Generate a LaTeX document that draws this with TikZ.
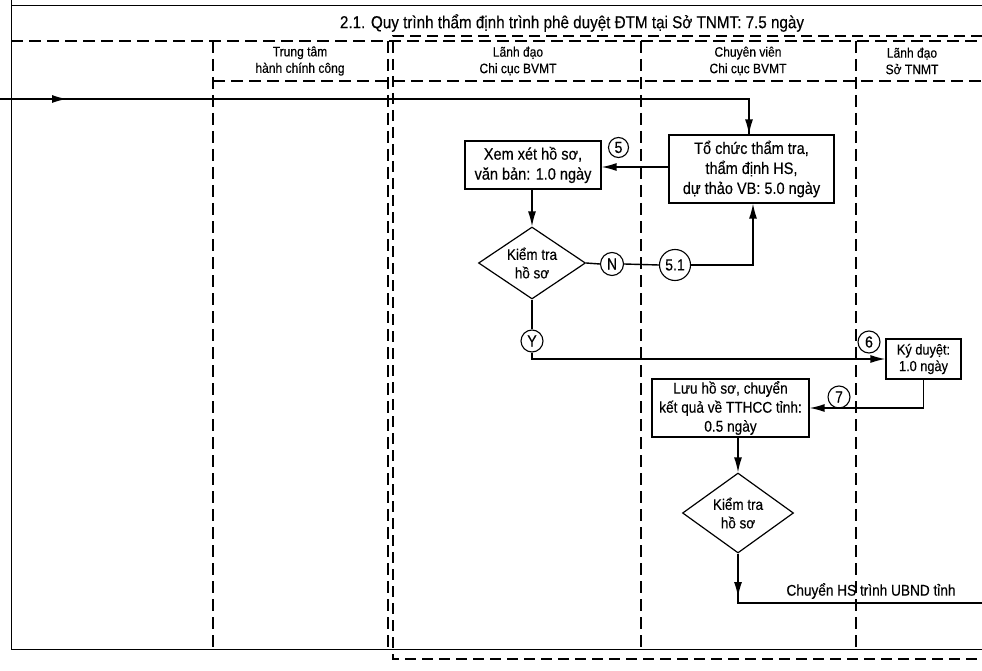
\documentclass[tikz,border=0pt]{standalone}
\usepackage{fontspec}
\setmainfont{Liberation Sans}[FakeStretch=0.88,FakeBold=0.3]
\usetikzlibrary{shapes.geometric,arrows.meta}
\begin{document}
\begin{tikzpicture}[x=1pt,y=-1pt,
  lanedash/.style={line width=1.1pt, dash pattern=on 12pt off 6pt},
  boxdash/.style={line width=1.9pt, dash pattern=on 11pt off 6pt},
  frameline/.style={line width=1pt},
  procbox/.style={draw, line width=1.2pt, align=center, inner sep=0pt},
  decision/.style={draw, diamond, line width=1.2pt, align=center, inner sep=0pt, aspect=1.4, font=\fontsize{15.3pt}{18.5pt}\selectfont},
  tag/.style={draw, circle, line width=1.1pt, inner sep=0pt, minimum size=22pt, font=\fontsize{16pt}{18pt}\selectfont},
  hdr/.style={align=center, inner sep=0pt, font=\fontsize{13.7pt}{16.5pt}\selectfont},
  flow/.style={line width=1.4pt},
  arr/.style={flow, -{Latex[length=15pt,width=8pt]}}
]
\useasboundingbox (0,0) rectangle (982,671);
% frame
\draw[frameline] (11,0) -- (11,649) -- (982,649);
\draw[frameline] (11,6) -- (982,6);
\draw[lanedash] (11,41) -- (982,41);
\draw[lanedash] (213,81) -- (982,81);
\draw[lanedash] (213,41) -- (213,649);
\draw[lanedash] (388,41) -- (388,649);
\draw[lanedash] (641,41) -- (641,649);
\draw[lanedash] (856,41) -- (856,649);
\draw[boxdash] (982,36) -- (393,36) -- (393,659) -- (982,659);
% title and headers
\node[inner sep=0pt, font=\fontsize{17.3pt}{20pt}\selectfont] (title) at (572,23) {2.1. Quy trình thẩm định trình phê duyệt ĐTM tại Sở TNMT: 7.5 ngày};
\node[hdr] (h1) at (300,61) {Trung tâm\\hành chính công};
\node[hdr] (h2) at (518,61) {Lãnh đạo\\Chi cục BVMT};
\node[hdr] (h3) at (748,61) {Chuyên viên\\Chi cục BVMT};
\node[hdr] (h4) at (912,61) {Lãnh đạo\\Sở TNMT};
% process nodes
\node[procbox, minimum width=165pt, minimum height=68pt, font=\fontsize{16.5pt}{20pt}\selectfont] (tochuc) at (751.5,169) {Tổ chức thẩm tra,\\thẩm định HS,\\dự thảo VB: 5.0 ngày};
\node[procbox, minimum width=136pt, minimum height=48pt, font=\fontsize{16.5pt}{20pt}\selectfont] (xemxet) at (533,165) {Xem xét hồ sơ,\\văn bản: 1.0 ngày};
\node[decision, minimum width=107pt, minimum height=72pt] (kt1) at (532,263) {Kiểm tra\\hồ sơ};
\node[tag, minimum size=20pt] (c5) at (618.5,147.5) {5};
\node[tag, minimum size=23pt] (cN) at (612,264) {N};
\node[tag, minimum size=31pt] (c51) at (675,265) {5.1};
\node[tag] (cY) at (532,341) {Y};
\node[tag] (c6) at (869,342) {6};
\node[tag] (c7) at (839,397) {7};
\node[procbox, minimum width=75pt, minimum height=40pt, font=\fontsize{14.5pt}{16.5pt}\selectfont] (ky) at (923.5,359) {Ký duyệt:\\1.0 ngày};
\node[procbox, minimum width=157pt, minimum height=58pt, font=\fontsize{15.5pt}{19pt}\selectfont] (luu) at (730.5,408) {Lưu hồ sơ, chuyển\\kết quả về TTHCC tỉnh:\\0.5 ngày};
\node[decision, minimum width=111pt, minimum height=80pt] (kt2) at (738,513) {Kiểm tra\\hồ sơ};
\node[inner sep=0pt, font=\fontsize{15.5pt}{16pt}\selectfont] (lbl) at (871,591) {Chuyển HS trình UBND tỉnh};
\coordinate (start) at (0,99);
\coordinate (endr) at (982,603);
\coordinate (bend) at (738,603);
% connectors
\draw[flow] (start) -- (749,99) -- (tochuc.north -| 749,0);
\draw[arr] (749,110) -- (tochuc.north -| 749,0);
\draw[arr] (start) -- (67,99);
\draw[arr] (tochuc.west |- 0,167) -- (xemxet.east |- 0,167);
\draw[arr] (xemxet.south -| kt1.north) -- (kt1.north);
\draw[flow] (kt1.east) -- (cN.west);
\draw[flow] (cN.east) -- (c51.west);
\draw[arr] (c51.east) -| (tochuc.south -| 753,0);
\draw[flow] (kt1.south) -- (cY.north);
\draw[arr] (cY.south) |- (ky.west);
\draw[arr] (ky.south) |- (luu.east);
\draw[arr] (kt2.north |- luu.south) -- (kt2.north);
\draw[flow] (kt2.south) -- (bend) -- (endr);
\draw[arr] (kt2.south) -- (738,597);
\end{tikzpicture}
\end{document}
